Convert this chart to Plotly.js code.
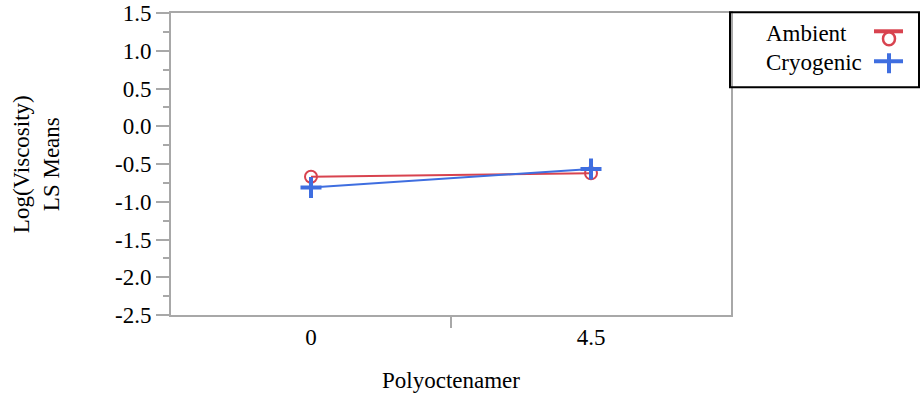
<!DOCTYPE html>
<html>
<head>
<meta charset="utf-8">
<script src="https://cdn.plot.ly/plotly-3.0.1.min.js"></script>
<style>html,body{margin:0;padding:0;background:#fff;}#chart{width:920px;height:397px;}</style>
</head>
<body>
<div id="chart"></div>
<script>
// ---- data ----
const categories = ["0", "4.5"];
const ambient = [-0.669, -0.624];
const cryogenic = [-0.81, -0.567];
const seriesNames = ["Ambient", "Cryogenic"];
const yTickVals = [-2.5, -2.0, -1.5, -1.0, -0.5, 0.0, 0.5, 1.0, 1.5];
const yTickText = ["-2.5", "-2.0", "-1.5", "-1.0", "-0.5", "0.0", "0.5", "1.0", "1.5"];

const RED = "#d8434f";
const BLUE = "#3f6ee0";
const FONT = "Liberation Serif";
const FS = 23;

const W = 920, H = 397;
const L = 171, R = 731, T = 12.7, B = 315;
const px = v => (v - L) / (R - L);
const py = v => (B - v) / (B - T);

const xIdx = categories.map((c, i) => i);

const traces = [
  {x: xIdx, y: ambient, name: seriesNames[0], type: "scatter", mode: "lines+markers",
   line: {color: RED, width: 2}, marker: {symbol: "circle-open", size: 12, color: RED, line: {width: 2, color: RED}},
   showlegend: false},
  {x: xIdx, y: cryogenic, name: seriesNames[1], type: "scatter", mode: "lines+markers",
   line: {color: BLUE, width: 2}, marker: {symbol: "cross-thin-open", size: 15, color: BLUE, line: {width: 4, color: BLUE}},
   showlegend: false}
];

const legendItems = [
  {name: seriesNames[0], color: RED, y: 33},
  {name: seriesNames[1], color: BLUE, y: 62}
];

const shapes = [
  {type: "rect", xref: "paper", yref: "paper", x0: px(730), x1: px(919), y0: py(87), y1: py(12),
   line: {color: "#000", width: 2}, fillcolor: "rgba(0,0,0,0)"},
  {type: "line", xref: "paper", yref: "paper", x0: px(874), x1: px(903), y0: py(31), y1: py(31), line: {color: RED, width: 4}},
  {type: "circle", xref: "paper", yref: "paper", x0: px(883), x1: px(895), y0: py(45), y1: py(32), line: {color: RED, width: 2.5}},
  {type: "line", xref: "paper", yref: "paper", x0: px(874), x1: px(903), y0: py(61), y1: py(61), line: {color: BLUE, width: 4}},
  {type: "line", xref: "paper", yref: "paper", x0: px(889), x1: px(889), y0: py(53), y1: py(73), line: {color: BLUE, width: 4}}
];

const annotations = legendItems.map(it => ({
  xref: "paper", yref: "paper", x: px(764), y: py(it.y), xanchor: "left", yanchor: "middle", align: "left",
  text: it.name, showarrow: false, font: {family: FONT, size: FS, color: "#000"}
}));
annotations.push({
  xref: "paper", yref: "paper", x: px(36), y: py(164), xanchor: "center", yanchor: "middle",
  text: "Log(Viscosity)<br>LS Means", textangle: -90, showarrow: false,
  font: {family: FONT, size: FS, color: "#000"}
});

const layout = {
  width: W, height: H,
  margin: {l: L, r: W - R, t: T, b: H - B, pad: 0},
  paper_bgcolor: "#fff", plot_bgcolor: "#fff",
  font: {family: FONT, size: FS, color: "#000"},
  xaxis: {
    range: [-0.5, 1.5], tickmode: "array", tickvals: xIdx, ticktext: categories,
    ticks: "", showgrid: false, zeroline: false,
    showline: true, linecolor: "#a8a8a8", linewidth: 2, mirror: true,
    tickfont: {family: FONT, size: FS, color: "#000"},
    minor: {tickmode: "array", tickvals: [0.5], ticks: "outside", ticklen: 11, tickwidth: 2, tickcolor: "#a8a8a8", showgrid: false},
    title: {text: "Polyoctenamer", font: {family: FONT, size: FS, color: "#000"}, standoff: 23},
    automargin: false
  },
  yaxis: {
    range: [-2.5, 1.5], tickmode: "array", tickvals: yTickVals, ticktext: yTickText,
    ticks: "outside", ticklen: 13, tickwidth: 2, tickcolor: "#a8a8a8",
    showgrid: false, zeroline: false,
    showline: true, linecolor: "#a8a8a8", linewidth: 2, mirror: true,
    tickfont: {family: FONT, size: FS, color: "#000"},
    minor: {dtick: 0.25, tick0: 0, ticks: "outside", ticklen: 6, tickwidth: 2, tickcolor: "#a8a8a8", showgrid: false},
    automargin: false
  },
  shapes: shapes,
  annotations: annotations,
  showlegend: false
};

Plotly.newPlot("chart", traces, layout, {staticPlot: true, displayModeBar: false});
</script>
</body>
</html>
